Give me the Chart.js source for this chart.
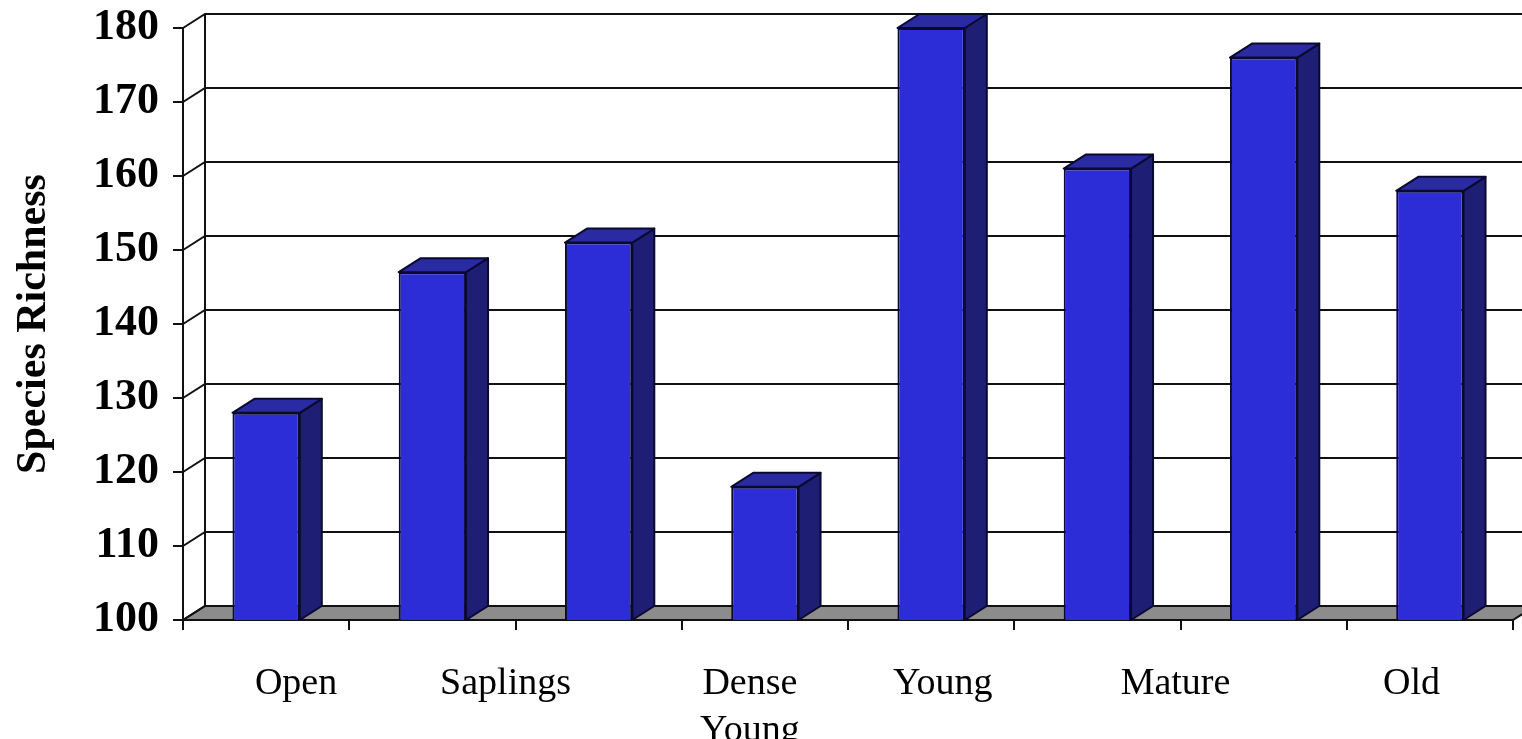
<!DOCTYPE html>
<html>
<head>
<meta charset="utf-8">
<script src="https://cdn.jsdelivr.net/npm/chart.js@4/dist/chart.umd.min.js"></script>
<style>
  html, body { margin: 0; background: #fff; }
  #wrap { width: 1522px; height: 739px; }
</style>
</head>
<body>
<div id="wrap"><canvas id="chart"></canvas></div>
<script>
// one bar per plot, group names sit under the axis
const plots = ['1', '2', '3', '4', '5', '6', '7', '8'];
const richness = [128, 147, 151, 118, 180, 161, 176, 158];
const groups = ['Open', 'Saplings', ['Dense', 'Young'], 'Young', 'Mature', 'Old'];
const groupAt = [0.68, 1.94, 3.41, 4.57, 5.97, 7.39];
const yTicks = [100, 110, 120, 130, 140, 150, 160, 170, 180];

const DX = 22, DY = 14;
const serif = '"Liberation Serif", "DejaVu Serif", serif';

// walls, floor and the 3D sides of the bars
const depth = {
    id: 'depth',
    beforeDatasetsDraw(chart) {
        const { ctx, chartArea: a, scales: { y } } = chart;
        ctx.save();
        ctx.strokeStyle = '#111';
        ctx.lineWidth = 2;
        // floor
        ctx.fillStyle = '#8c8c8c';
        ctx.beginPath();
        ctx.moveTo(a.left, a.bottom);
        ctx.lineTo(a.right, a.bottom);
        ctx.lineTo(a.right + DX, a.bottom - DY);
        ctx.lineTo(a.left + DX, a.bottom - DY);
        ctx.closePath();
        ctx.fill();
        ctx.stroke();
        // side wall ticks + back wall gridlines
        yTicks.forEach(v => {
            const p = y.getPixelForValue(v);
            ctx.beginPath();
            ctx.moveTo(a.left, p);
            ctx.lineTo(a.left + DX, p - DY);
            ctx.lineTo(a.right + DX, p - DY);
            ctx.stroke();
        });
        ctx.beginPath();
        ctx.moveTo(a.left + DX, a.top - DY);
        ctx.lineTo(a.left + DX, a.bottom - DY);
        ctx.stroke();
        ctx.restore();
    },
    afterDatasetsDraw(chart) {
        const { ctx, chartArea: a } = chart;
        ctx.save();
        ctx.strokeStyle = '#0a0a30';
        ctx.lineWidth = 2;
        ctx.lineJoin = 'round';
        chart.getDatasetMeta(0).data.forEach(bar => {
            const { x, y, base, width } = bar.getProps(['x', 'y', 'base', 'width'], true);
            const l = x - width / 2, r = x + width / 2;
            const b = Math.min(base, a.bottom);
            // right side
            ctx.fillStyle = '#1e1e74';
            ctx.beginPath();
            ctx.moveTo(r, y);
            ctx.lineTo(r + DX, y - DY);
            ctx.lineTo(r + DX, b - DY);
            ctx.lineTo(r, b);
            ctx.closePath();
            ctx.fill();
            ctx.stroke();
            // top
            ctx.fillStyle = '#2a2aa2';
            ctx.beginPath();
            ctx.moveTo(l, y);
            ctx.lineTo(r, y);
            ctx.lineTo(r + DX, y - DY);
            ctx.lineTo(l + DX, y - DY);
            ctx.closePath();
            ctx.fill();
            ctx.stroke();
        });
        ctx.restore();
    }
};

new Chart(document.getElementById('chart'), {
    type: 'bar',
    data: {
        labels: plots,
        datasets: [{
            data: richness,
            backgroundColor: '#2d2dd8',
            borderColor: '#0a0a30',
            borderWidth: 2,
            borderSkipped: false,
            categoryPercentage: 1,
            barPercentage: 0.405
        }]
    },
    options: {
        responsive: true,
        maintainAspectRatio: false,
        animation: false,
        layout: { padding: { top: 28, right: 9, left: 0, bottom: 0 } },
        plugins: { legend: { display: false }, tooltip: { enabled: false } },
        scales: {
            y: {
                min: 100,
                max: 180,
                afterBuildTicks: s => { s.ticks = yTicks.map(v => ({ value: v })); },
                afterFit: s => { s.width = 183; },
                ticks: {
                    color: '#000',
                    padding: 14,
                    font: { family: serif, size: 44, weight: 'bold', lineHeight: 0.4 }
                },
                grid: { drawOnChartArea: false, tickLength: 10, color: '#111', lineWidth: 2 },
                border: { display: true, color: '#111', width: 2 },
                title: {
                    display: true,
                    text: 'Species Richness',
                    color: '#000',
                    padding: { top: 9, bottom: 0 },
                    font: { family: serif, size: 42, weight: 'bold' }
                }
            },
            x: {
                afterFit: s => { s.height = 12; },
                ticks: { display: false },
                grid: { offset: true, drawOnChartArea: false, tickLength: 10, color: '#111', lineWidth: 2 },
                border: { display: false }
            },
            groups: {
                type: 'linear',
                position: 'bottom',
                offset: false,
                min: 0,
                max: 8,
                afterBuildTicks: s => { s.ticks = groupAt.map(v => ({ value: v })); },
                afterFit: s => { s.height = 107; },
                ticks: {
                    autoSkip: false,
                    maxRotation: 0,
                    color: '#000',
                    padding: 20,
                    font: { family: serif, size: 38, lineHeight: 1.25 },
                    callback: (v, i) => groups[i]
                },
                grid: { display: false, offset: false },
                border: { display: false }
            }
        }
    },
    plugins: [depth]
});
</script>
</body>
</html>
